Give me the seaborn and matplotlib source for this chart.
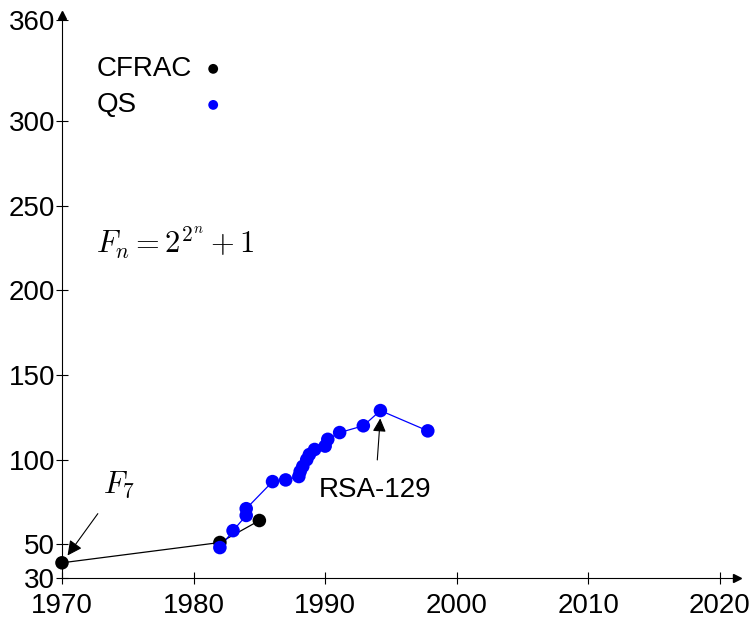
import matplotlib
matplotlib.use("Agg")
import matplotlib.pyplot as plt
import pandas as pd
import seaborn as sns

# Record factorisations: year vs. number of decimal digits
cfrac_year = [1970, 1982, 1985]
cfrac_digits = [39, 51, 64]

qs_year = [1982, 1983, 1984, 1984, 1986, 1987, 1988, 1988.1, 1988.3, 1988.6,
           1988.8, 1989.2, 1990, 1990.2, 1991.1, 1992.9, 1994.2, 1997.8]
qs_digits = [48, 58, 67, 71, 87, 88, 90, 93, 96, 100,
             103, 106, 108, 112, 116, 120, 129, 117]

x_ticks = [1970, 1980, 1990, 2000, 2010, 2020]
y_ticks = [30, 50, 100, 150, 200, 250, 300, 360]
methods = ["CFRAC", "QS"]

sns.set_style("ticks")
plt.rcParams["font.family"] = ["Liberation Sans", "DejaVu Sans"]
plt.rcParams["font.size"] = 20
for key in ["text.color", "axes.labelcolor", "xtick.color", "ytick.color",
            "axes.edgecolor"]:
    plt.rcParams[key] = "black"

df = pd.concat([
    pd.DataFrame({"year": cfrac_year, "digits": cfrac_digits, "method": "CFRAC"}),
    pd.DataFrame({"year": qs_year, "digits": qs_digits, "method": "QS"}),
], ignore_index=True)
palette = {"CFRAC": "black", "QS": "#0000ff"}

fig = plt.figure(figsize=(7.54, 6.21), dpi=100)
ax = fig.add_axes([0.0822, 0.0692, 0.8953, 0.907])

sns.lineplot(data=df, x="year", y="digits", hue="method", palette=palette,
             estimator=None, linewidth=0.9, legend=False, ax=ax)
sns.scatterplot(data=df, x="year", y="digits", hue="method", palette=palette,
                s=95, edgecolor="none", ax=ax, clip_on=False, zorder=3,
                legend=False)

ax.set_xlim(1970, 2021.3)
ax.set_ylim(30, 363)
ax.set_xticks(x_ticks)
ax.set_yticks(y_ticks)
ax.set_xlabel("")
ax.set_ylabel("")
ax.tick_params(direction="inout", length=8, width=0.8, labelsize=20)
ax.tick_params(axis="x", pad=7)
ax.tick_params(axis="y", pad=1)
for side in ["top", "right"]:
    ax.spines[side].set_visible(False)
for side in ["left", "bottom"]:
    ax.spines[side].set_linewidth(0.8)

# arrow heads on the axes
ax.plot(1, 0, ">k", transform=ax.transAxes, clip_on=False, markersize=6)
ax.plot(0, 1, "^k", transform=ax.transAxes, clip_on=False, markersize=6)

# legend: label on the left, marker on the right
for i, m in enumerate(methods):
    y = 0.904 - i * 0.064
    ax.text(0.052, y, m, transform=ax.transAxes, ha="left", va="center",
            fontsize=20)
    ax.scatter([0.224], [y], transform=ax.transAxes, s=50, color=palette[m],
               edgecolor="none", clip_on=False)

ax.text(1972.6, 228, r"$F_n = 2^{2^n} + 1$", fontsize=22, ha="left", va="center",
        math_fontfamily="cm")

ax.annotate(r"$F_7$", xy=(1970.3, 42), xytext=(1974.3, 85), fontsize=22,
            ha="center", va="center", math_fontfamily="cm",
            arrowprops=dict(arrowstyle="-|>", color="black", lw=0.8,
                            shrinkA=9, shrinkB=2))
ax.annotate("RSA-129", xy=(1994.2, 126), xytext=(1993.8, 82), fontsize=20,
            ha="center", va="center",
            arrowprops=dict(arrowstyle="-|>", color="black", lw=0.8,
                            shrinkA=10, shrinkB=2))

fig.savefig("out.png", dpi=100)
